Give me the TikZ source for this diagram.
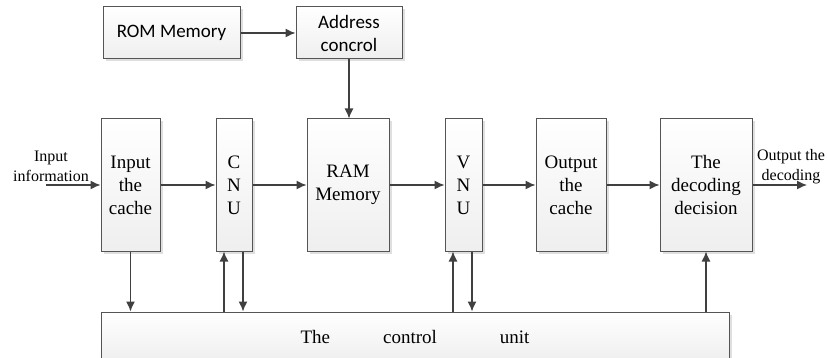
\documentclass[tikz,border=0pt]{standalone}
\usepackage{fontspec}
\setmainfont{Liberation Serif}
\newfontfamily\calfont{Carlito}
\usetikzlibrary{arrows.meta,shadows,calc}
\definecolor{edge}{HTML}{555555}
\definecolor{arrc}{HTML}{404040}
\begin{document}
\begin{tikzpicture}[x=1pt,y=-1pt,
  blk/.style={draw=edge, line width=1pt, top color=white, bottom color=gray!13,
    drop shadow={shadow xshift=2.5pt, shadow yshift=-2.5pt, fill=gray!25, opacity=1},
    inner sep=0pt, align=center, font=\fontsize{19}{23}\selectfont},
  cblk/.style={blk, font=\calfont\fontsize{19}{23}\selectfont},
  arr/.style={draw=arrc, line width=1.3pt, -{Latex[length=10pt,width=9pt]}},
  lbl/.style={align=center, inner sep=0pt, font=\fontsize{16}{20}\selectfont}]
\useasboundingbox (0,0) rectangle (827,358);
\node[cblk, minimum width=137pt, minimum height=52pt] (rom) at (171.5,33) {ROM Memory};
\node[cblk, minimum width=106pt, minimum height=52pt] (addr) at (349,33) {Address\\concrol};
\node[blk, minimum width=59pt, minimum height=132pt] (cache) at (130.5,185) {Input\\the\\cache};
\node[blk, minimum width=36pt, minimum height=132pt] (cnu) at (234,185) {C\\N\\U};
\node[blk, minimum width=82pt, minimum height=132pt] (ram) at (348,185) {RAM\\Memory};
\node[blk, minimum width=37pt, minimum height=132pt] (vnu) at (463.5,185) {V\\N\\U};
\node[blk, minimum width=70pt, minimum height=132pt] (ocache) at (571,185) {Output\\the\\cache};
\node[blk, minimum width=92pt, minimum height=132pt] (dec) at (706,185) {The\\decoding\\decision};
\node[blk, minimum width=628pt, minimum height=50pt] (ctrl) at (415,337) {The\hspace{53pt}control\hspace{63pt}unit};
\node[lbl] (inlbl) at (51,166) {Input\\information};
\node[lbl] (outlbl) at (791,167) {Output the\\decoding};
\coordinate (instart) at (46,185);
\coordinate (outend) at (807,185);
\draw[arr] (rom.east) -- (addr.west);
\draw[arr] (addr.south) -- (addr.south |- ram.north);
\draw[arr] (instart) -- (cache.west);
\draw[arr] (cache.east) -- (cnu.west);
\draw[arr] (cnu.east) -- (ram.west);
\draw[arr] (ram.east) -- (vnu.west);
\draw[arr] (vnu.east) -- (ocache.west);
\draw[arr] (ocache.east) -- (dec.west);
\draw[arr] (dec.east) -- (outend);
\draw[arr] (cache.south) -- (cache.south |- ctrl.north);
\draw[arr] ($(cnu.south |- ctrl.north)+(-10,0)$) -- ($(cnu.south)+(-10,0)$);
\draw[arr] ($(cnu.south)+(9,0)$) -- ($(cnu.south |- ctrl.north)+(9,0)$);
\draw[arr] ($(vnu.south |- ctrl.north)+(-10.5,0)$) -- ($(vnu.south)+(-10.5,0)$);
\draw[arr] ($(vnu.south)+(8.5,0)$) -- ($(vnu.south |- ctrl.north)+(8.5,0)$);
\draw[arr] (dec.south |- ctrl.north) -- (dec.south);
\end{tikzpicture}
\end{document}
